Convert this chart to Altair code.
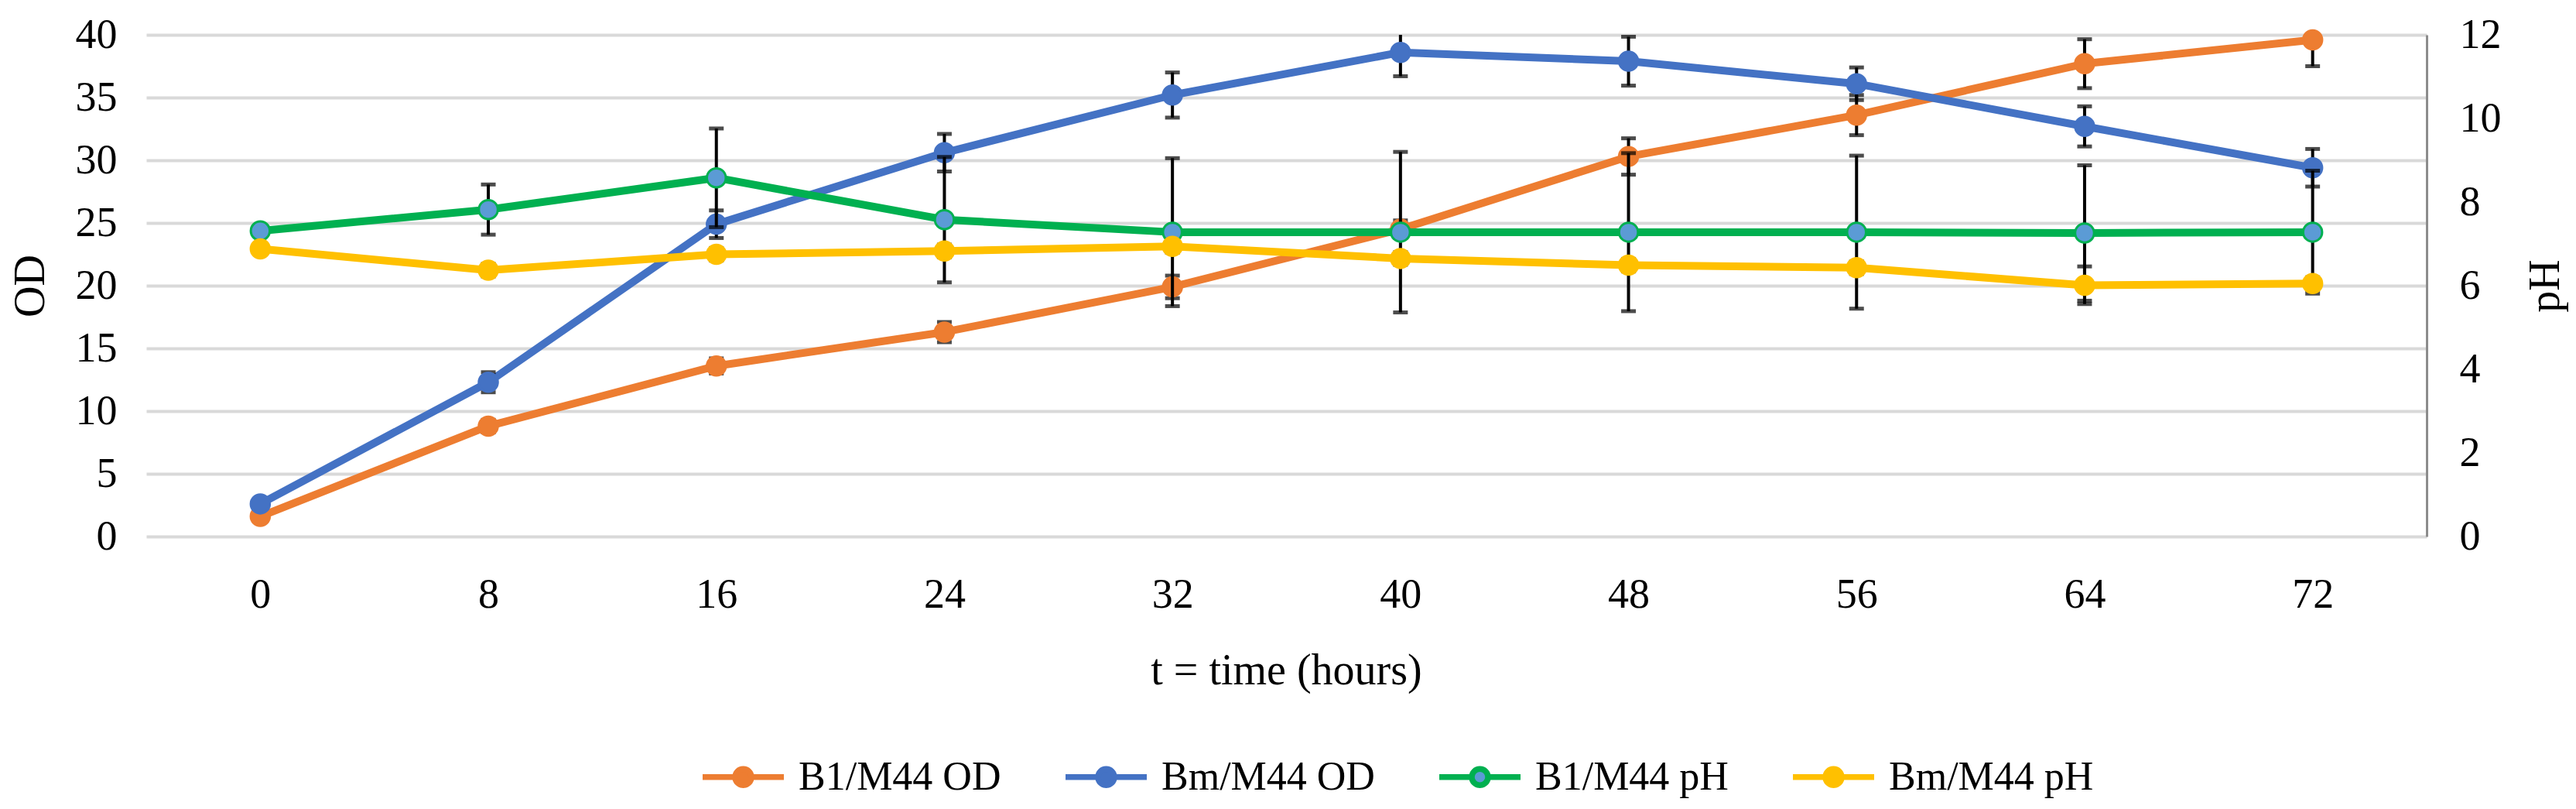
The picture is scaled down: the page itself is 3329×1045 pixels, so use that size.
import altair as alt
import pandas as pd

# ---- data ----
times = [0, 8, 16, 24, 32, 40, 48, 56, 64, 72]
time_labels = [str(t) for t in times]

series_names = ["B1/M44 OD", "Bm/M44 OD", "B1/M44 pH", "Bm/M44 pH"]
line_colors = ["#ED7D31", "#4472C4", "#00B050", "#FFC000"]
marker_fills = ["#ED7D31", "#4472C4", "#5B9BD5", "#FFC000"]

b1_od = [1.6, 8.8, 13.6, 16.3, 19.9, 24.5, 30.3, 33.6, 37.7, 39.6]
b1_od_err = [0.2, 0.5, 0.6, 0.8, 0.9, 0.7, 1.45, 1.6, 1.95, 2.1]
bm_od = [2.6, 12.3, 24.9, 30.6, 35.2, 38.6, 37.9, 36.1, 32.7, 29.4]
bm_od_err = [0.3, 0.8, 1.1, 1.5, 1.8, 1.9, 1.95, 1.3, 1.6, 1.5]
b1_ph = [7.31, 7.82, 8.58, 7.58, 7.28, 7.28, 7.28, 7.28, 7.26, 7.28]
b1_ph_err = [0.1, 0.6, 1.18, 1.5, 1.77, 1.92, 1.89, 1.83, 1.62, 1.47]
bm_ph = [6.88, 6.37, 6.75, 6.83, 6.94, 6.65, 6.49, 6.43, 6.01, 6.05]
bm_ph_err = [0.1, 0.15, 0.15, 0.15, 0.15, 0.15, 0.15, 0.15, 0.45, 0.15]

od_ticks = [0, 5, 10, 15, 20, 25, 30, 35, 40]
ph_ticks = [0, 2, 4, 6, 8, 10, 12]

series_axis = ["OD", "OD", "pH", "pH"]
series_vals = [b1_od, bm_od, b1_ph, bm_ph]
series_errs = [b1_od_err, bm_od_err, b1_ph_err, bm_ph_err]

rows = []
for name, axis_name, vals, errs in zip(series_names, series_axis, series_vals, series_errs):
    for t, v, e in zip(time_labels, vals, errs):
        rows.append({"time": t, "series": name, "axis": axis_name,
                     "value": v, "lo": v - e, "hi": v + e})
df = pd.DataFrame(rows)

FONT = "Liberation Serif"
R = 0.2
LEGEND_PATH = (f"M-1,0L-{R},0M{R},0L1,0"
               f"M{R},0A{R},{R},0,1,1,-{R},0A{R},{R},0,1,1,{R},0Z")

legend = alt.Legend(
    title=None, orient="none", direction="horizontal",
    legendX=715, legendY=902,
    symbolType=LEGEND_PATH, symbolSize=11025, symbolStrokeWidth=7.5,
    symbolOpacity=1,
    labelFont=FONT, labelFontSize=52, labelColor="black",
    labelOffset=15, columnPadding=68, padding=0, labelLimit=0,
)

stroke_scale = alt.Scale(domain=series_names, range=line_colors)
fill_scale = alt.Scale(domain=series_names, range=marker_fills)

x_enc = alt.X(
    "time:O", sort=time_labels,
    scale=alt.Scale(type="point", padding=0.5),
    axis=alt.Axis(title="t = time (hours)", labelAngle=0, ticks=False, tickSize=0,
                  domain=False, grid=False, labelPadding=48,
                  titleX=1473, titleY=173, titleAlign="center",
                  titleBaseline="middle"),
)


def sublayer(axis_name, title, domain, axis):
    base = alt.Chart(df).transform_filter(alt.datum.axis == axis_name)
    yscale = alt.Scale(domain=domain, nice=False, zero=True)
    layers = []
    for name, color, ax in zip(series_names, line_colors, series_axis):
        if ax != axis_name:
            continue
        layers.append(
            base.transform_filter(alt.datum.series == name)
            .mark_line(color=color, strokeWidth=10, strokeJoin="round", strokeCap="round")
            .encode(x=x_enc, y=alt.Y("value:Q", scale=yscale, axis=axis, title=title))
        )
    rule = base.mark_rule(color="black", strokeWidth=4, clip=True).encode(
        x=x_enc,
        y=alt.Y("lo:Q", scale=yscale, title=title),
        y2="hi:Q",
    )
    cap_lo = base.mark_tick(color="black", thickness=5, size=19, clip=True).encode(
        x=x_enc, y=alt.Y("lo:Q", scale=yscale, title=title))
    cap_hi = base.mark_tick(color="black", thickness=5, size=19, clip=True).encode(
        x=x_enc, y=alt.Y("hi:Q", scale=yscale, title=title))
    pts = base.mark_point(filled=True, size=600, strokeWidth=3, opacity=1).encode(
        x=x_enc,
        y=alt.Y("value:Q", scale=yscale, title=title),
        stroke=alt.Stroke("series:N", scale=stroke_scale, legend=legend),
        fill=alt.Fill("series:N", scale=fill_scale, legend=legend),
    )
    layers += [rule, cap_lo, cap_hi, pts]
    return alt.layer(*layers)


od_axis = alt.Axis(orient="left", values=od_ticks, grid=True, gridColor="#D9D9D9",
                   gridWidth=4, domain=False, ticks=False, tickSize=0, format="d",
                   labelPadding=38, titleX=-133, titleY=324, titleAngle=270,
                   titleAlign="center", titleBaseline="alphabetic")
ph_axis = alt.Axis(orient="right", values=ph_ticks, grid=False, domain=True,
                   domainColor="#8C8C8C", domainWidth=3, ticks=False, tickSize=0,
                   format="d", labelPadding=42, titleX=170, titleY=324, titleAngle=270,
                   titleAlign="center", titleBaseline="alphabetic")

od_layer = sublayer("OD", "OD", [0, 40], od_axis)
ph_layer = sublayer("pH", "pH", [0, 12], ph_axis)

chart = alt.layer(od_layer, ph_layer).resolve_scale(y="independent").properties(
    width=2947, height=648,
    autosize=alt.AutoSizeParams(type="none"),
    padding={"left": 181, "top": 37, "right": 184, "bottom": 350},
).configure_axis(
    labelFont=FONT, titleFont=FONT, labelFontSize=54, titleFontSize=56,
    labelColor="black", titleColor="black", titleFontWeight="normal",
).configure_view(stroke=None)

chart.save("out.html", embed_options={"renderer": "svg", "actions": False})
